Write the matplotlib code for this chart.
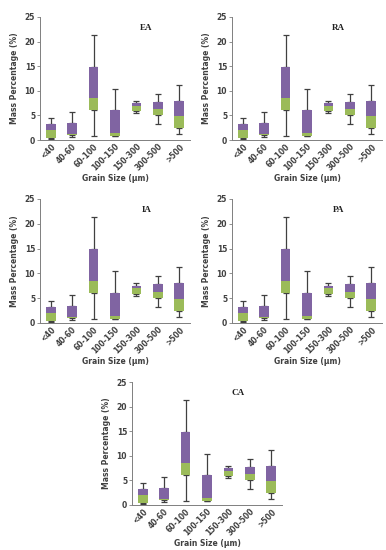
import matplotlib
matplotlib.use("Agg")
import matplotlib.pyplot as plt
import numpy as np

categories = ["<40", "40-60", "60-100", "100-150", "150-300", "300-500", ">500"]
lows   = [0.3, 0.6, 0.8, 0.8, 5.5, 3.2, 1.3]
q1     = [0.5, 1.0, 6.1, 0.9, 5.8, 5.0, 2.4]
medians = [2.0, 1.3, 8.5, 1.5, 7.0, 6.2, 4.8]
q3     = [3.2, 3.4, 14.9, 6.0, 7.5, 7.8, 8.0]
highs  = [4.4, 5.7, 21.3, 10.4, 8.0, 9.4, 11.2]
panels = ["EA", "RA", "IA", "PA", "CA"]
y_ticks = [0, 5, 10, 15, 20, 25]

W, H = 386, 550
fig = plt.figure(figsize=(W / 100, H / 100), dpi=100)

# axes rectangles in pixels: (left, top, right, bottom)
rects = [
    (40, 17, 190, 140),
    (232, 17, 382, 140),
    (40, 199, 190, 323),
    (232, 199, 382, 323),
    (132, 382, 282, 505),
]

green = "#9BBB59"
purple = "#8064A2"
grey = "#7f7f7f"
wcol = "#404040"

for name, (l, t, r, b) in zip(panels, rects):
    ax = fig.add_axes([l / W, 1 - b / H, (r - l) / W, (b - t) / H])
    x = np.arange(len(categories))
    lo = np.array(lows); a = np.array(q1); m = np.array(medians)
    c = np.array(q3); hi = np.array(highs)
    # whiskers
    ax.errorbar(x, a, yerr=[a - lo, np.zeros_like(a)], fmt="none",
                ecolor=wcol, elinewidth=0.9, capsize=2.2, capthick=0.9, zorder=1)
    ax.errorbar(x, c, yerr=[np.zeros_like(c), hi - c], fmt="none",
                ecolor=wcol, elinewidth=0.9, capsize=2.2, capthick=0.9, zorder=1)
    ax.bar(x, m - a, bottom=a, width=0.45, color=green, zorder=2)
    ax.bar(x, c - m, bottom=m, width=0.45, color=purple, zorder=2)
    ax.set_xlim(-0.5, 6.5)
    ax.set_ylim(0, 25)
    ax.set_yticks(y_ticks)
    ax.set_xticks(x)
    ax.set_xticklabels(categories, rotation=45, ha="right", rotation_mode="anchor",
                       fontsize=5.5, fontweight="bold", color="#404040")
    for lab in ax.get_yticklabels():
        lab.set_fontsize(5.5); lab.set_fontweight("bold"); lab.set_color("#404040")
    for s in ["top", "right"]:
        ax.spines[s].set_visible(False)
    for s in ["left", "bottom"]:
        ax.spines[s].set_color(grey)
        ax.spines[s].set_linewidth(0.7)
    ax.tick_params(axis="y", length=2, width=0.6, color=grey, pad=1.5)
    ax.tick_params(axis="x", length=0, pad=1.5)
    ax.set_ylabel("Mass Percentage (%)", fontsize=5.5, fontweight="bold",
                  color="#404040", labelpad=4)
    ax.set_xlabel("Grain Size (\u03bcm)", fontsize=5.5, fontweight="bold",
                  color="#404040", labelpad=1)
    ax.text(0.71, 0.91, name, transform=ax.transAxes, fontsize=6.5, ha="center",
            va="center", fontweight="bold", family="Liberation Serif", color="#202020")

fig.savefig("out.png", dpi=100)
